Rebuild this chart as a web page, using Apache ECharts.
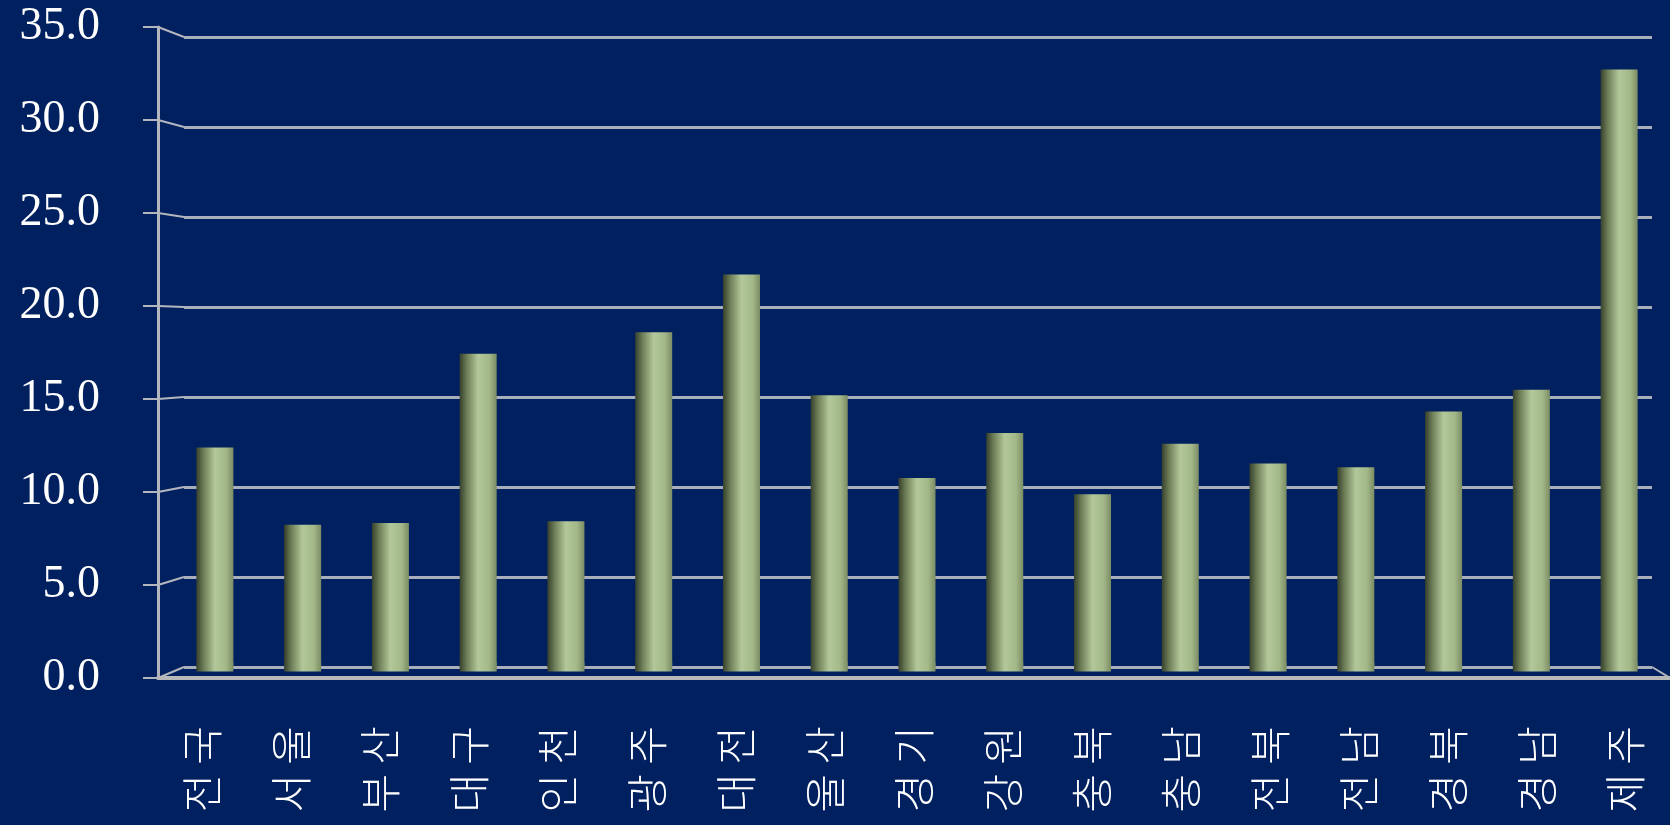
<!DOCTYPE html>
<html>
<head>
<meta charset="utf-8">
<script src="https://cdn.jsdelivr.net/npm/echarts@6/dist/echarts.min.js"></script>
<style>
  html, body { margin: 0; padding: 0; background: #002060; }
  #chart { width: 1670px; height: 825px; }
</style>
</head>
<body>
<div id="chart"></div>
<script>
// 지역 이름
var categories = ['전 국', '서 울', '부 산', '대 구', '인 천', '광 주', '대 전', '울 산', '경 기',
                  '강 원', '충 북', '충 남', '전 북', '전 남', '경 북', '경 남', '제 주'];
// 지역별 값
var values = [12.2, 7.9, 8.0, 17.4, 8.1, 18.6, 21.8, 15.1, 10.5,
              13.0, 9.6, 12.4, 11.3, 11.1, 14.2, 15.4, 33.2];
// y축 눈금
var yTicks = [0, 5, 10, 15, 20, 25, 30, 35];

var lineColor = '#b4b6be';
var chart = echarts.init(document.getElementById('chart'));

// 원통 느낌 그라데이션
function cylinder() {
    return new echarts.graphic.LinearGradient(0, 0, 1, 0, [
        { offset: 0, color: '#36402c' },
        { offset: 0.2, color: '#6f7f58' },
        { offset: 0.5, color: '#b2c89a' },
        { offset: 0.8, color: '#a3b889' },
        { offset: 1, color: '#7b8c63' }
    ]);
}

var option = {
    backgroundColor: '#002060',
    animation: false,
    grid: [
        // 앞쪽 축
        { left: 158, right: -6, top: 27, bottom: 147 },
        // 뒤쪽 벽 (눈금선)
        { left: 184, right: 18, top: 37, bottom: 158 },
        // 막대
        { left: 171, right: 7, top: 37, bottom: 158 }
    ],
    xAxis: [
        {
            gridIndex: 0, type: 'category', data: categories,
            axisLine: { lineStyle: { color: '#b8b8b8', width: 4 } },
            axisTick: { length: 14, lineStyle: { color: lineColor, width: 2 } },
            axisLabel: {
                rotate: 90, margin: 48, color: '#ffffff', fontSize: 42,
                fontFamily: 'Noto Sans CJK KR', fontWeight: 300
            }
        },
        { gridIndex: 1, type: 'category', data: categories, show: false },
        { gridIndex: 2, type: 'category', data: categories, show: false }
    ],
    yAxis: [
        {
            gridIndex: 0, type: 'value', min: yTicks[0], max: yTicks[yTicks.length - 1], interval: 5,
            axisLine: { show: true, lineStyle: { color: lineColor, width: 3 } },
            axisTick: { show: true, length: 15, lineStyle: { color: lineColor, width: 2 } },
            splitLine: { show: false },
            axisLabel: {
                margin: 58, color: '#ffffff', fontSize: 46, fontFamily: 'Liberation Serif',
                formatter: function (v) { return v.toFixed(1); }
            }
        },
        {
            gridIndex: 1, type: 'value', min: yTicks[0], max: yTicks[yTicks.length - 1], interval: 5,
            axisLine: { show: false }, axisTick: { show: false }, axisLabel: { show: false },
            splitLine: { show: true, lineStyle: { color: '#a9aebb', width: 3 } }
        },
        { gridIndex: 2, type: 'value', min: yTicks[0], max: yTicks[yTicks.length - 1], show: false }
    ],
    series: [
        {
            type: 'bar', xAxisIndex: 2, yAxisIndex: 2,
            data: values, barWidth: 37, z: 3,
            itemStyle: { color: cylinder() }
        },
        {
            // 원통 아랫부분 (바닥보다 살짝 아래로)
            type: 'pictorialBar', xAxisIndex: 2, yAxisIndex: 2,
            data: values, symbol: 'rect', symbolSize: [37, 9],
            symbolPosition: 'start', symbolOffset: [0, '50%'], z: 4,
            itemStyle: { color: cylinder() }
        }
    ]
};
chart.setOption(option);

// 앞 축과 뒤 벽을 잇는 사선
var front = chart.getModel().getComponent('grid', 0).coordinateSystem.getRect();
var wall = chart.getModel().getComponent('grid', 1).coordinateSystem.getRect();
var slants = [];
yTicks.forEach(function (t) {
    var y1 = chart.convertToPixel({ yAxisIndex: 0 }, t);
    var y2 = chart.convertToPixel({ yAxisIndex: 1 }, t);
    slants.push({
        type: 'line', silent: true,
        shape: { x1: front.x, y1: y1, x2: wall.x, y2: y2 },
        style: { stroke: lineColor, lineWidth: 2 }
    });
});
// 오른쪽 바닥 모서리
slants.push({
    type: 'line', silent: true,
    shape: {
        x1: wall.x + wall.width, y1: chart.convertToPixel({ yAxisIndex: 1 }, 0),
        x2: front.x + front.width, y2: chart.convertToPixel({ yAxisIndex: 0 }, 0)
    },
    style: { stroke: lineColor, lineWidth: 2 }
});
chart.setOption({ graphic: slants });
</script>
</body>
</html>
